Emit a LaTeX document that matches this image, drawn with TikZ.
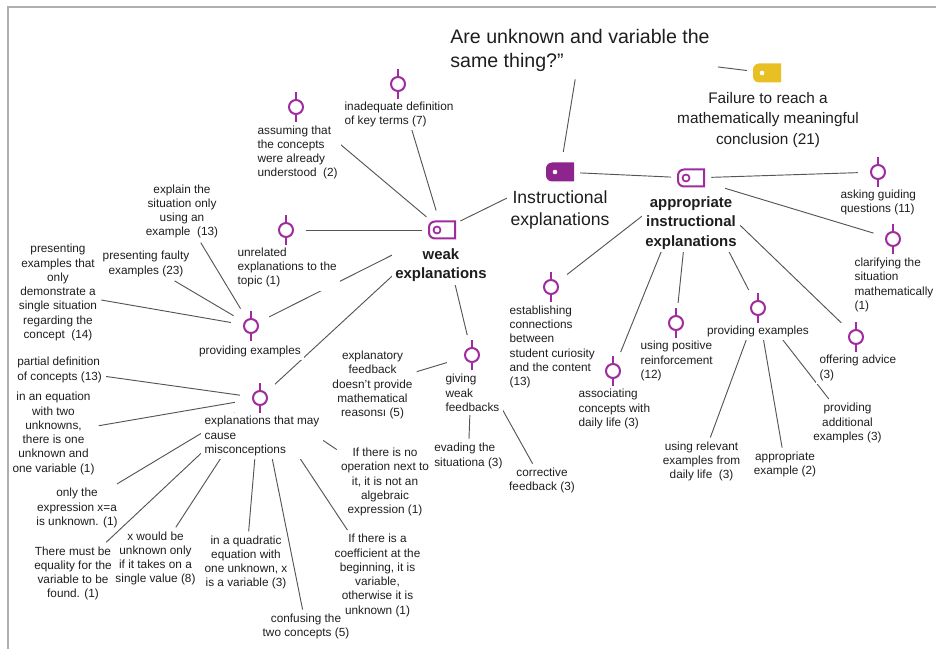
\documentclass[tikz,border=0pt]{standalone}
\usepackage{fontspec}
\setmainfont{Liberation Sans}
\usetikzlibrary{backgrounds,calc}
\definecolor{ipurple}{RGB}{158,44,158}
\definecolor{ipurpledark}{RGB}{142,36,142}
\definecolor{iyellow}{RGB}{232,192,36}
\definecolor{conngray}{RGB}{85,85,85}
\definecolor{txt}{RGB}{30,30,30}
\definecolor{framegray}{RGB}{175,175,175}
\tikzset{
  icomask/.style={circle,fill=white,inner sep=0pt,minimum size=30pt},
  smallfont/.style={font=\fontsize{8.85}{10.7}\selectfont},
  leafC/.style={smallfont,text=txt,inner sep=3pt,align=center},
  leafL/.style={smallfont,text=txt,inner sep=3pt,align=left,anchor=west},
  icolblC/.style={smallfont,text=txt,inner sep=2.5pt,align=center,fill=white},
  icolblL/.style={smallfont,text=txt,inner sep=2.5pt,align=left,anchor=west,fill=white},
  boldlbl/.style={font=\fontsize{11.2}{14.4}\selectfont\bfseries,text=txt,inner sep=2.5pt,align=center,fill=white},
  conn/.style={draw=conngray,line width=0.7pt},
  circicon/.pic={
    \begin{scope}[x=0.75pt,y=0.75pt]
      \draw[ipurple,line width=1.5pt] (0,-15) -- (0,-7) (0,7) -- (0,15);
      \draw[ipurple,line width=1.5pt] (0,0) circle[radius=7];
    \end{scope}},
  tagout/.pic={
    \begin{scope}[x=0.75pt,y=0.75pt]
      \draw[ipurple,line width=1.5pt] (13,8.5) -- (-7,8.5) arc[start angle=90,end angle=180,radius=6] -- (-13,-2.5) arc[start angle=180,end angle=270,radius=6] -- (13,-8.5) -- cycle;
      \draw[ipurple,line width=1.3pt] (-5,0) circle[radius=3.5];
    \end{scope}},
  tagfill/.pic={
    \begin{scope}[x=0.75pt,y=0.75pt]
      \fill[#1] (14,9.5) -- (-8,9.5) arc[start angle=90,end angle=180,radius=6] -- (-14,-3.5) arc[start angle=180,end angle=270,radius=6] -- (14,-9.5) -- cycle;
      \fill[white] (-5,0) circle[radius=2.3];
    \end{scope}},
}
\begin{document}
\begin{tikzpicture}[x=0.75pt,y=-0.75pt]
\useasboundingbox (0,0) rectangle (936,649);
\draw[framegray,line width=1.5pt] (8,649) -- (8,7) -- (936,7);

% ---------- icon masks ----------
\node[icomask] (instr) at (560,172) {};
\node[icomask] (appr) at (691,178) {};
\node[icomask] (weak) at (442,230) {};
\node[icomask] (fail) at (767,73) {};
\node[icomask] (inad) at (398,84) {};
\node[icomask] (assum) at (296,107) {};
\node[icomask] (unrel) at (286,230) {};
\node[icomask] (provL) at (251,326) {};
\node[icomask] (misc) at (260,398) {};
\node[icomask] (give) at (472,355) {};
\node[icomask] (estab) at (551,287) {};
\node[icomask] (assoc) at (613,371) {};
\node[icomask] (posit) at (676,323) {};
\node[icomask] (provR) at (758,308) {};
\node[icomask] (advice) at (856,337) {};
\node[icomask] (asking) at (878,172) {};
\node[icomask] (clarif) at (893,239) {};

% ---------- main labels ----------
\node[font=\fontsize{14.7}{18}\selectfont,text=txt,align=left,inner sep=6pt] (title) at (580,50) {Are unknown and variable the\\same thing?”};
\node[font=\fontsize{13.2}{16.9}\selectfont,text=txt,align=center,inner sep=2.5pt,fill=white] (instrL) at (560,210) {Instructional\\explanations};
\node[boldlbl] (apprL) at (691,223) {appropriate\\instructional\\explanations};
\node[boldlbl] (weakL) at (441,265) {weak\\explanations};
\node[font=\fontsize{11.5}{15.4}\selectfont,text=txt,align=center,inner sep=2.5pt,fill=white] (failL) at (768,120) {Failure to reach a\\mathematically meaningful\\conclusion (21)};

% ---------- icon labels ----------
\node[icolblL] (inadL) at (341,114.5) {inadequate definition\\of key terms (7)};
\node[icolblL] (assumL) at (254,152.5) {assuming that\\the concepts\\were already\\understood\ \ (2)};
\node[icolblL] (unrelL) at (234,267.5) {unrelated\\explanations to the\\topic (1)};
\node[icolblC] (provLL) at (250,351) {providing examples};
\node[icolblL] (miscL) at (201,436) {explanations that may\\cause\\misconceptions};
\node[icolblL] (giveL) at (442,393) {giving\\weak\\feedbacks};
\node[icolblL] (estabL) at (506,347) {establishing\\connections\\between\\student curiosity\\and the content\\(13)};
\node[icolblL] (assocL) at (575,409) {associating\\concepts with\\daily life (3)};
\node[icolblC] (provRL) at (758,331) {providing examples};
\node[icolblL] (positL) at (637,361) {using positive\\reinforcement\\(12)};
\node[icolblL] (adviceL) at (816,368) {offering advice\\(3)};
\node[icolblL] (askingL) at (837,202.5) {asking guiding\\questions (11)};
\node[icolblL] (clarifL) at (851,285) {clarifying the\\situation\\mathematically\\(1)};

% ---------- white bridges between each icon and its label ----------
\foreach \i/\l in {instr/instrL,appr/apprL,weak/weakL,fail/failL}
  \fill[white] ($(\i)+(-34,3)$) rectangle ($(\i |- \l.north)+(34,0.5)$);
\foreach \i/\l in {inad/inadL,assum/assumL,unrel/unrelL,provL/provLL,misc/miscL,give/giveL,estab/estabL,assoc/assocL,posit/positL,provR/provRL,advice/adviceL,asking/askingL,clarif/clarifL}
  \fill[white] ($(\i)+(-25,3)$) rectangle ($(\i |- \l.north)+(25,0.5)$);

% ---------- leaf labels ----------
\node[leafC] (explain) at (182,211.5) {explain the\\situation only\\using an\\example\ \ (13)};
\node[leafC] (faulty) at (146,264) {presenting faulty\\examples (23)};
\node[leafC] (single) at (58,292.5) {presenting\\examples that\\only\\demonstrate a\\single situation\\regarding the\\concept\ \ (14)};
\node[leafL] (partial) at (13,370) {partial definition\\of concepts (13)};
\node[leafC] (twoeq) at (53.5,433.5) {in an equation\\with two\\unknowns,\\there is one\\unknown and\\one variable (1)};
\node[leafC] (onlyx) at (77,508) {only the\\expression x=a\\is unknown. (1)};
\node[leafC] (equal) at (73,573.5) {There must be\\equality for the\\variable to be\\found. (1)};
\node[leafC] (singval) at (155.5,558.5) {x would be\\unknown only\\if it takes on a\\single value (8)};
\node[leafC] (quad) at (246,562.5) {in a quadratic\\equation with\\one unknown, x\\is a variable (3)};
\node[leafC] (confuse) at (306,626.5) {confusing the\\two concepts (5)};
\node[leafC] (coef) at (377.5,575.5) {If there is a\\coefficient at the\\beginning, it is\\variable,\\otherwise it is\\unknown (1)};
\node[leafC] (noop) at (385,482) {If there is no\\operation next to\\it, it is not an\\algebraic\\expression (1)};
\node[leafC] (expfb) at (372.5,385) {explanatory\\feedback\\doesn't provide\\mathematical\\reasonsı (5)};
\node[leafL] (evade) at (430,456) {evading the\\situationa (3)};
\node[leafC] (correct) at (542,480.5) {corrective\\feedback (3)};
\node[leafC] (relev) at (701.5,461.5) {using relevant\\examples from\\daily life\ \ (3)};
\node[leafC] (apex) at (785,464.5) {appropriate\\example (2)};
\node[leafC] (addl) at (847.5,423) {providing\\additional\\examples (3)};

% ---------- icons ----------
\pic at (instr) {tagfill=ipurpledark};
\pic at (appr) {tagout};
\pic at (weak) {tagout};
\pic at (fail) {tagfill=iyellow};
\foreach \n in {inad,assum,unrel,provL,misc,give,estab,assoc,posit,provR,advice,asking,clarif}
  \pic at (\n) {circicon};

% ---------- connectors ----------
\begin{pgfonlayer}{background}
\draw[conn] (title) -- (instr);
\draw[conn] (title) -- (fail);
\draw[conn] (instr) -- (appr);
\draw[conn] (instr) -- (weak);
\foreach \n in {inad,assum,unrel,provL,misc,give} \draw[conn] (weak) -- (\n);
\foreach \n in {explain,faulty,single} \draw[conn] (provL) -- (\n);
\foreach \n in {partial,twoeq,onlyx,equal,singval,quad,confuse,coef,noop} \draw[conn] (misc) -- (\n);
\foreach \n in {expfb,evade,correct} \draw[conn] (give) -- (\n);
\foreach \n in {estab,assoc,posit,provR,advice,asking,clarif} \draw[conn] (appr) -- (\n);
\foreach \n in {relev,apex,addl} \draw[conn] (provR) -- (\n);
\end{pgfonlayer}
\end{tikzpicture}
\end{document}
